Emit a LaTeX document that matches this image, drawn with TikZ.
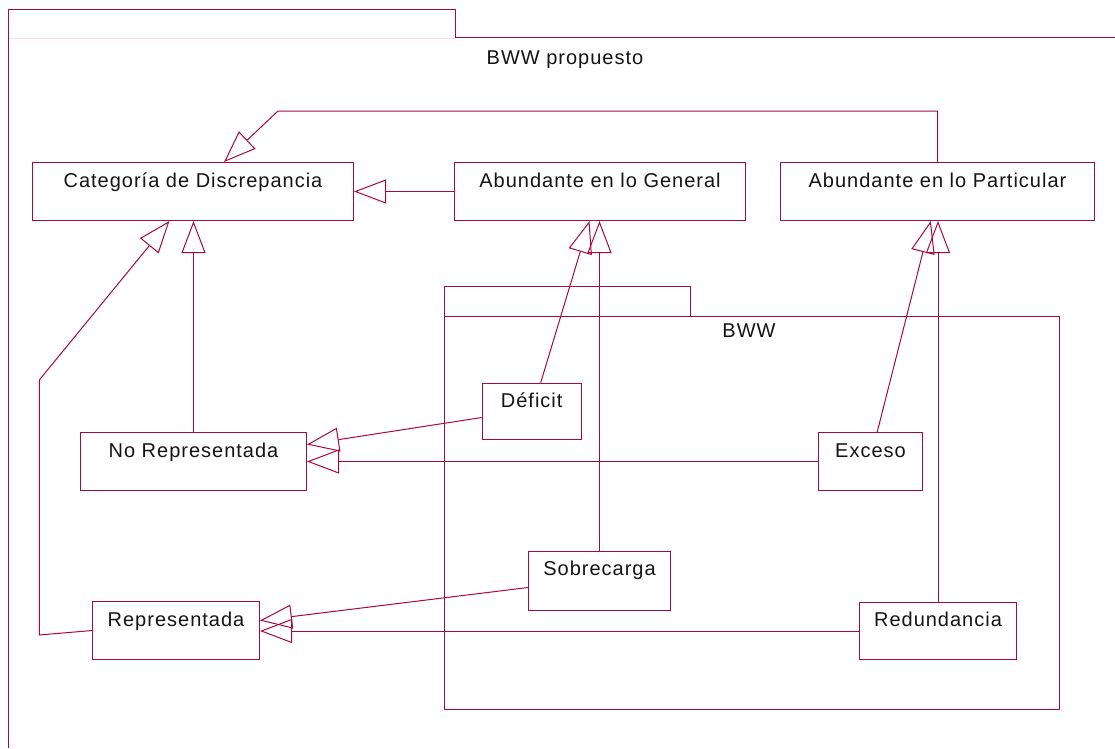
\documentclass[tikz,border=0pt]{standalone}
\usepackage{fontspec}
\setmainfont{Liberation Sans}[LetterSpace=5]
\usetikzlibrary{arrows.meta,calc}
\definecolor{rose}{RGB}{165,10,60}
\definecolor{rosefaint}{RGB}{248,226,233}
% class box: name, x1, y1, x2, y2, title
\newcommand\umlclass[6]{%
  \node[classbox, minimum width={#4-#2}, minimum height={#5-#3}] (#1) at (#2,#3) {};
  \node[lbl] (#1-t) at ([yshift=-25pt]#1.north) {#6};
}
\begin{document}
\begin{tikzpicture}[x=1pt,y=-1pt,
  line width=1pt,
  classbox/.style={draw=rose, rectangle, inner sep=0pt, anchor=north west},
  lbl/.style={anchor=base, inner sep=0pt, font=\fontsize{20}{24}\selectfont, text=black!92},
  genarrow/.style={draw=rose, -{Triangle[open,length=32pt,width=24pt]}},
  pkg/.style={draw=rose},
]
\useasboundingbox (0,0) rectangle (1115,748);

% outer package "BWW propuesto"
\draw[rosefaint] (8,38) -- (455,38);
\draw[pkg] (8,748) -- (8,9) -- (455,9) -- (455,37) -- (1115,37);
\node[lbl] (outer-t) at (565,64) {BWW propuesto};

% inner package "BWW"
\draw[pkg] (444,316) rectangle (1059,709);
\draw[pkg] (444,316) -- (444,286.7) -- (690,286.7) -- (690,316);
\node[lbl] (inner-t) at (749,337) {BWW};

% classes
\umlclass{cat}{32}{162}{353}{220}{Categoría de Discrepancia}
\umlclass{gen}{454}{162}{745}{220}{Abundante en lo General}
\umlclass{par}{780}{162}{1094}{220}{Abundante en lo Particular}
\umlclass{norep}{80}{432}{306}{490}{No Representada}
\umlclass{def}{481.7}{382.7}{580.7}{439.3}{Déficit}
\umlclass{exc}{818}{432}{922}{490}{Exceso}
\umlclass{sob}{528}{550.5}{670}{609.5}{Sobrecarga}
\umlclass{rep}{92}{601}{259}{659}{Representada}
\umlclass{red}{859}{601.7}{1016}{659.3}{Redundancia}

% generalizations
\coordinate (bendA) at (278,111);
\draw[genarrow] (par.north) |- (bendA) -- ([xshift=31pt]cat.north);
\draw[genarrow] (gen.west) -- (cat.east);
\draw[genarrow] ([xshift=9pt]def.north) -- ([xshift=-10.5pt]gen.south);
\draw[genarrow] (sob.north) -- (sob.north |- gen.south);
\draw[genarrow] ([xshift=6.7pt]exc.north) -- ([xshift=-6.7pt]par.south);
\draw[genarrow] (red.north) -- (red.north |- par.south);
\draw[genarrow] (norep.north) -- (norep.north |- cat.south);
\coordinate (bendH1) at (39.3,635);
\coordinate (bendH2) at (39.3,380);
\draw[genarrow] (rep.west) -- (bendH1) -- (bendH2) -- ([xshift=-23.5pt]cat.south);
\draw[genarrow] ([yshift=-6pt]def.west) -- ([yshift=17pt]norep.east);
\draw[genarrow] (exc.west) -- (exc.west -| norep.east);
\draw[genarrow] ([yshift=-7pt]sob.west) -- ([yshift=10pt]rep.east);
\draw[genarrow] (red.west) -- (red.west -| rep.east);
\end{tikzpicture}
\end{document}
